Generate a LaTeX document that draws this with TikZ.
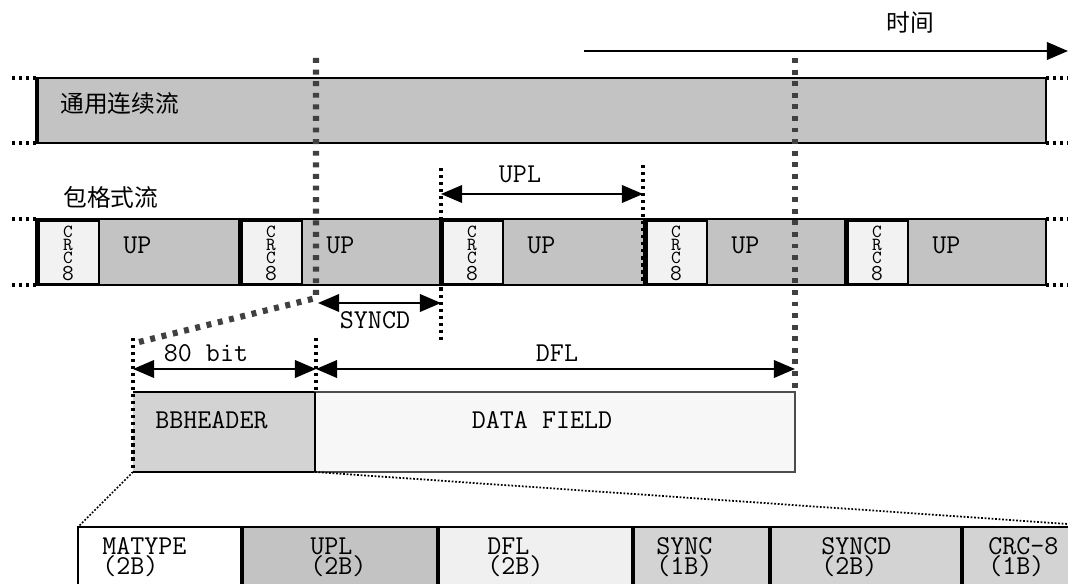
\documentclass[tikz,border=0pt]{standalone}
\usepackage{fontspec}
\newfontfamily\cjk{Noto Sans CJK SC}
\usetikzlibrary{arrows.meta, positioning}

\definecolor{streamgray}{HTML}{C3C3C3}
\definecolor{headgray}{HTML}{D3D3D3}
\definecolor{crcwhite}{HTML}{F2F2F2}
\definecolor{fieldwhite}{HTML}{F7F7F7}
\definecolor{dflwhite}{HTML}{F0F0F0}
\definecolor{markgray}{HTML}{404040}

\tikzset{
  bigdots/.style={markgray, line width=3.5pt, dash pattern=on 2.8pt off 3.8pt},
  smalldots/.style={black, line width=1.8pt, dash pattern=on 1.8pt off 2.2pt},
  finedots/.style={black, line width=1pt, dash pattern=on 1pt off 1pt},
  span/.style={{Triangle[length=12pt,width=10pt]}-{Triangle[length=12pt,width=10pt]}, line width=1.1pt},
  lbl/.style={font=\ttfamily\fontsize{15.5}{11.5}\selectfont, inner sep=0pt},
  cell/.style={lbl, align=left, anchor=west},
  crclbl/.style={font=\ttfamily\fontsize{10.5}{7.6}\selectfont, align=center, inner sep=0pt},
  cjklbl/.style={font=\cjk\fontsize{13.5}{14}\selectfont, inner sep=0pt},
  crcbox/.style={draw, line width=1pt, fill=crcwhite},
}

\begin{document}
\begin{tikzpicture}[x=0.02cm, y=-0.02cm]
  \clip (0,0) rectangle (1068,584);

  % time axis
  \coordinate (t0) at (584,51);
  \coordinate (t1) at (1068,51);
  \draw[-{Triangle[length=12pt,width=10pt]}, line width=1.1pt] (t0) -- (t1);
  \node[cjklbl] (time) at (910,23) {时间};

  % continuous stream
  \draw[line width=1.2pt, fill=streamgray] (37,78) rectangle (1046,143);
  \draw[line width=2pt] (37,78) -- (37,143);
  \node[cjklbl, anchor=west] (gcs) at (60,104) {通用连续流};
  \foreach \y in {78,143} {
    \draw[smalldots] (12,\y) -- (37,\y);
    \draw[smalldots] (1046,\y) -- (1068,\y);
  }

  % packetized stream
  \node[cjklbl, anchor=west] (gs) at (63,197) {包格式流};
  \draw[line width=1.2pt, fill=streamgray] (37,219) rectangle (1046,285);
  \foreach \s [count=\i] in {37,240,441,645,846} {
    \draw[crcbox] (\s+2,221) rectangle (\s+62,284);
    \node[crclbl] (crc\i) at (\s+31,253) {C\\R\\C\\{\fontsize{13}{7.6}\selectfont 8}};
    \node[lbl, anchor=west] (up\i) at (\s+86,245) {UP};
    \draw[line width=2.5pt] (\s,219) -- (\s,285);
  }
  \foreach \y in {219,285} {
    \draw[smalldots] (12,\y) -- (37,\y);
    \draw[smalldots] (1046,\y) -- (1068,\y);
  }

  % sync marks
  \coordinate (m1) at (316,58);
  \coordinate (m1b) at (316,298);
  \coordinate (m1c) at (135,343);
  \coordinate (m2) at (795,58);
  \coordinate (m2b) at (795,392);
  \draw[bigdots] (m1) -- (m1b) -- (m1c);
  \draw[bigdots] (m2) -- (m2b);

  % UPL and SYNCD
  \coordinate (u0) at (441,194);
  \coordinate (u1) at (643,194);
  \coordinate (s0) at (318,303);
  \coordinate (s1) at (441,303);
  \draw[smalldots] (441,168) -- (441,342);
  \draw[smalldots] (643,165) -- (643,285);
  \draw[span] (u0) -- (u1);
  \node[lbl] (upl) at (520,174) {UPL};
  \draw[span] (s0) -- (s1);
  \node[lbl] (syncd) at (375,320) {SYNCD};

  % BBFRAME
  \fill[headgray] (133,392) rectangle (315,472);
  \draw[line width=1pt] (133,392) -- (315,392) -- (315,472) -- (133,472);
  \draw[line width=1pt, draw=gray!60!black, fill=fieldwhite] (315,392) rectangle (795,472);
  \draw[line width=1.6pt] (315,392) -- (315,472);
  \draw[smalldots] (133,338) -- (133,472);
  \draw[smalldots] (316,338) -- (316,392);
  \coordinate (b0) at (133,369);
  \coordinate (b1) at (316,369);
  \coordinate (b2) at (795,369);
  \draw[span] (b0) -- (b1);
  \draw[span] (b1) -- (b2);
  \node[lbl] (bits) at (206,353) {80 bit};
  \node[lbl] (dfl) at (557,353) {DFL};
  \node[lbl, anchor=west] (bbh) at (155,420) {BBHEADER};
  \node[lbl] (df) at (542,420) {DATA FIELD};

  % header fields
  \draw[finedots] (133,472) -- (78,527);
  \draw[finedots] (315,472) -- (1068,524);
  \foreach \a/\b/\c in {78/242/white, 242/438/streamgray, 438/633/dflwhite,
                        633/770/headgray, 770/962/headgray, 962/1080/headgray}
    \draw[line width=1.3pt, fill=\c] (\a,527) rectangle (\b,600);
  \foreach \a in {242,438,633,770,962}
    \draw[line width=2pt] (\a,527) -- (\a,600);
  \node[cell] (f1) at (102,557) {MATYPE\\(2B)};
  \node[cell] (f2) at (310,557) {UPL\\(2B)};
  \node[cell] (f3) at (487,557) {DFL\\(2B)};
  \node[cell] (f4) at (656,557) {SYNC\\(1B)};
  \node[cell] (f5) at (821,557) {SYNCD\\(2B)};
  \node[cell] (f6) at (988,557) {CRC-8\\(1B)};
\end{tikzpicture}
\end{document}
